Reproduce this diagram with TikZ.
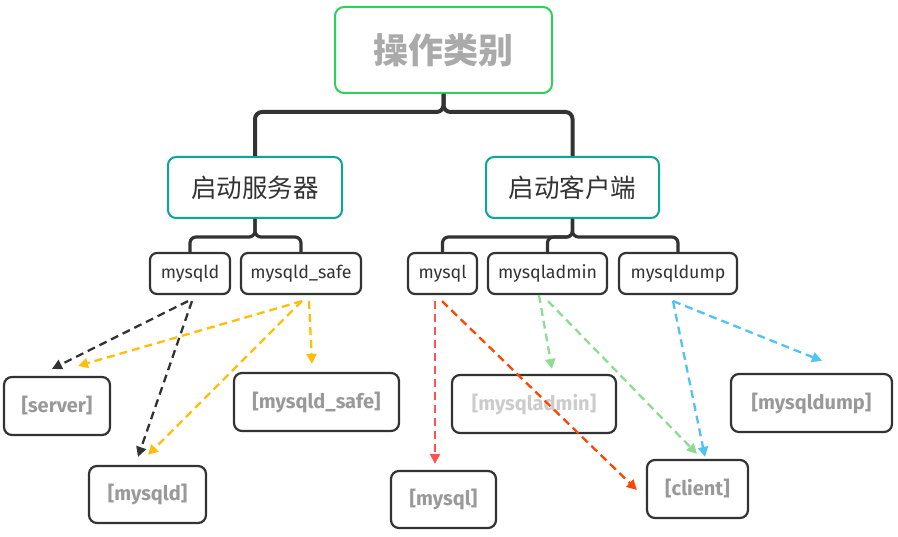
\documentclass[tikz,border=0pt]{standalone}
\usepackage{fontspec}
\setmainfont{Fira Sans}
\newfontfamily\cjk{Noto Sans CJK SC}
\usetikzlibrary{arrows.meta}
\definecolor{dark}{HTML}{333333}
\definecolor{rootgreen}{RGB}{46,208,90}
\definecolor{teal}{RGB}{10,166,152}
\definecolor{rootgrey}{HTML}{AAAAAA}
\definecolor{leafgrey}{HTML}{999999}
\definecolor{lightgrey}{HTML}{CCCCCC}
\definecolor{ayellow}{RGB}{255,190,10}
\definecolor{ared}{RGB}{255,82,82}
\definecolor{aorange}{RGB}{255,69,0}
\definecolor{agreen}{RGB}{140,220,145}
\definecolor{ablue}{RGB}{79,195,247}
\tikzset{
  rootbox/.style={draw=rootgreen, line width=2pt, rounded corners=9pt, inner sep=0pt,
    minimum width=217pt, minimum height=86pt, font=\cjk\bfseries\fontsize{35}{40}\selectfont, text=rootgrey},
  midbox/.style={draw=teal, line width=2pt, rounded corners=8pt, inner sep=0pt,
    minimum height=61pt, font=\cjk\fontsize{25.5}{28}\selectfont, text=dark},
  toolbox/.style={draw=dark, line width=2.2pt, rounded corners=7pt, inner sep=0pt,
    minimum height=41pt, font=\fontsize{17.8}{20}\selectfont, text=dark},
  leafbox/.style={draw=dark, line width=2.2pt, rounded corners=8pt, inner sep=0pt,
    minimum height=58pt, font=\bfseries\fontsize{20}{22}\selectfont, text=leafgrey},
  tree/.style={draw=dark, line width=4pt, rounded corners=7pt},
  tree2/.style={draw=dark, line width=3.2pt, rounded corners=6pt},
  arr/.style={line width=2.3pt, dash pattern=on 8pt off 5pt, -{Triangle[width=10pt,length=10pt]}},
}
\begin{document}
\begin{tikzpicture}[x=1pt,y=-1pt]
\useasboundingbox (0,0) rectangle (898,537);
\fill[white] (0,0) rectangle (898,537);
% nodes
\node[rootbox] (root) at (443.5,50) {操作类别};
\node[midbox, minimum width=174pt] (c1) at (255,187.5) {启动服务器};
\node[midbox, minimum width=173pt] (c2) at (572.5,187.5) {启动客户端};
\node[toolbox, minimum width=80pt] (mysqld) at (190,273.5) {mysqld};
\node[toolbox, minimum width=120pt] (msafe) at (301,273.5) {mysqld\_safe};
\node[toolbox, minimum width=69pt] (mysql) at (442.5,273.5) {mysql};
\node[toolbox, minimum width=119pt] (madmin) at (547.5,273.5) {mysqladmin};
\node[toolbox, minimum width=118pt] (mdump) at (678,273.5) {mysqldump};
\node[leafbox, minimum width=106pt] (server) at (57,406) {[server]};
\node[leafbox, minimum width=117pt, minimum height=57pt] (lmysqld) at (147.5,494.5) {[mysqld]};
\node[leafbox, minimum width=165pt] (lsafe) at (316.5,402) {[mysqld\_safe]};
\node[leafbox, minimum width=105pt, minimum height=57pt] (lmysql) at (443.5,499.5) {[mysql]};
\node[leafbox, minimum width=164pt, text=lightgrey] (ladmin) at (534,404) {[mysqladmin]};
\node[leafbox, minimum width=101pt] (client) at (697.5,489) {[client]};
\node[leafbox, minimum width=161pt] (ldump) at (811.5,403) {[mysqldump]};
% tree connectors
\draw[tree] (root.south) -- ++(0,18) -| (c1.north);
\draw[tree] (root.south) -- ++(0,18) -| (c2.north);
\draw[tree2] (c1.south) -- ++(0,18) -| (mysqld.north);
\draw[tree2] (c1.south) -- ++(0,18) -| (msafe.north);
\draw[tree2] (c2.south) -- ++(0,18) -| (mysql.north);
\draw[tree2] (c2.south) -- ++(0,18) -| (madmin.north);
\draw[tree2] (c2.south) -- ++(0,18) -| (mdump.north);
% dashed arrows
\draw[arr, dark] ([shift={(-2,6)}]mysqld.south) -- ([shift={(-5,-7)}]server.north);
\draw[arr, dark] ([shift={(2,6)}]mysqld.south) -- ([shift={(-9.5,-8)}]lmysqld.north);
\draw[arr, ayellow] ([shift={(1,6)}]msafe.south) -- ([shift={(21,-10)}]server.north);
\draw[arr, ayellow] ([shift={(1,6)}]msafe.south) -- ([shift={(0.5,-10)}]lmysqld.north);
\draw[arr, ayellow] ([shift={(8,6)}]msafe.south) -- ([shift={(-4.5,-8)}]lsafe.north);
\draw[arr, ared] ([shift={(-7.5,6)}]mysql.south) -- ([shift={(-8.5,-6)}]lmysql.north);
\draw[arr, aorange] ([shift={(-0.5,6)}]mysql.south) -- ([shift={(-9,1)}]client.west);
\draw[arr, agreen] ([shift={(-8.5,0)}]madmin.south) -- ([shift={(18,-5)}]ladmin.north);
\draw[arr, agreen] ([shift={(0.5,6)}]madmin.south) -- ([shift={(-0.5,-5)}]client.north);
\draw[arr, ablue] ([shift={(-5,6)}]mdump.south) -- ([shift={(7.5,-2)}]client.north);
\draw[arr, ablue] ([shift={(-5,6)}]mdump.south) -- ([shift={(10.5,-12)}]ldump.north);
\end{tikzpicture}
\end{document}
